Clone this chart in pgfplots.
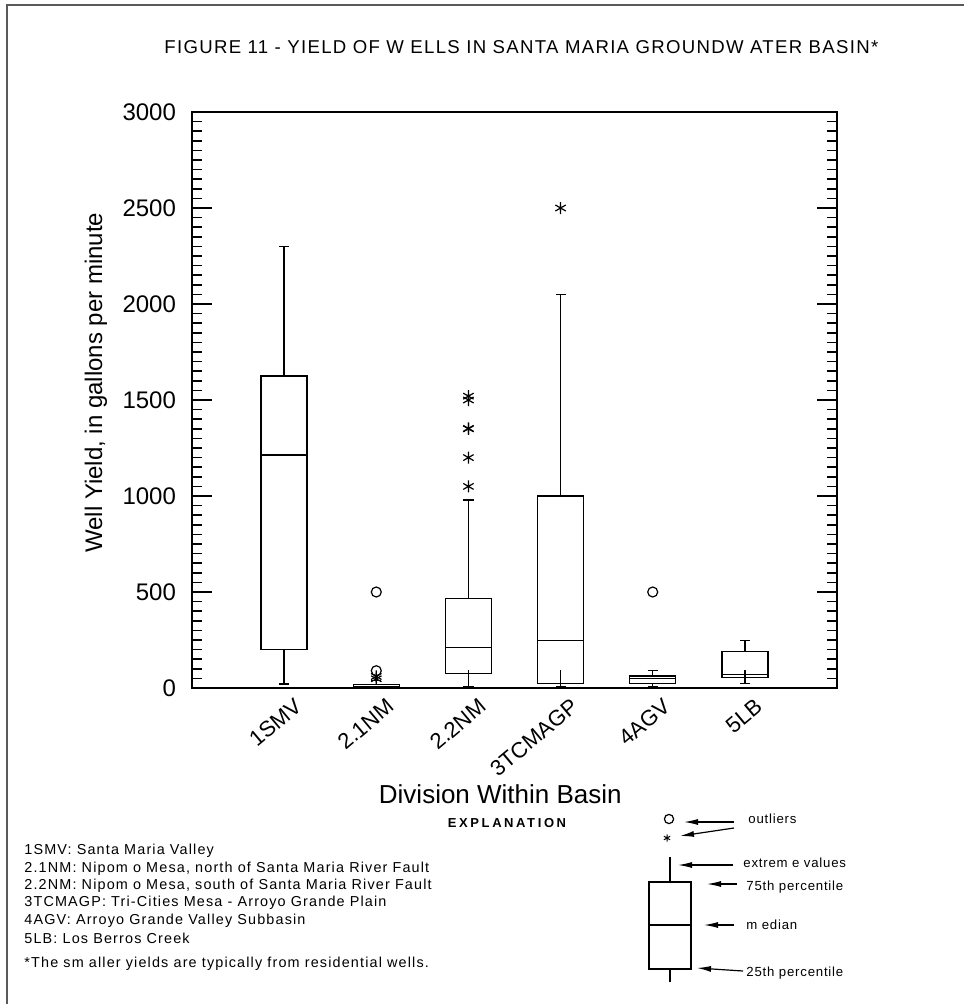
\documentclass[border=0pt]{standalone}
\usepackage{pgfplots}
\pgfplotsset{compat=1.18}
\usepgfplotslibrary{statistics}
\usetikzlibrary{arrows.meta}
\usepackage{fontspec}
\setmainfont{Liberation Sans}
\newfontfamily\spacedT[LetterSpace=7]{Liberation Sans}
\newfontfamily\spacedE[LetterSpace=8]{Liberation Sans}
\newfontfamily\spacedL[LetterSpace=6]{Liberation Sans}
\newfontfamily\spacedX[LetterSpace=20]{Liberation Sans}

\begin{document}
\begin{tikzpicture}
\path[use as bounding box] (0,0) rectangle (482pt,-502pt);
\draw[black!65, line width=1pt] (3.5pt,-502pt) -- (3.5pt,-2.5pt) -- (482pt,-2.5pt);
\node[anchor=west, inner sep=0pt, font=\spacedT\fontsize{9.3}{10}\selectfont] at (82pt,-23.5pt) {FIGURE 11 - YIELD OF W ELLS IN SANTA MARIA GROUNDW ATER BASIN*};

\begin{axis}[
  at={(96pt,-344pt)}, anchor=south west, scale only axis,
  width=322.5pt, height=288pt,
  xmin=0, xmax=7, ymin=0, ymax=3000,
  axis line style={line width=1pt},
  xtick={1,2,3,4,5,6},
  xticklabels={1SMV,2.1NM,2.2NM,3TCMAGP,4AGV,5LB},
  major x tick style={draw=none},
  x tick label style={rotate=40, anchor=north east, font=\fontsize{11}{12}\selectfont, yshift=-3pt, xshift=4pt},
  ytick={0,500,...,3000},
  minor y tick num=9,
  ytick pos=both, tick align=inside,
  major tick length=10pt, minor tick length=5pt,
  y tick label style={font=\fontsize{12}{14}\selectfont, xshift=-4.5pt},
  /pgf/number format/assume math mode=true,
  /pgf/number format/set thousands separator={},
  every tick/.style={black, line width=0.8pt},
  ylabel={Well Yield, in gallons per minute},
  xlabel={Division Within Basin},
  every axis y label/.style={at={(axis description cs:-0.149,0.53)}, anchor=center, rotate=90, font=\fontsize{12}{14}\selectfont},
  every axis x label/.style={at={(axis description cs:0.478,0)}, anchor=center, yshift=-53pt, font=\fontsize{13}{15}\selectfont},
  boxplot/draw direction=y,
  boxplot/box extend=0.5,
  boxplot/whisker extend=0.11,
  clip=false,
]
% 1SMV
\addplot[black, line width=0.7pt, boxplot prepared={draw position=1, lower whisker=20, lower quartile=200, median=1213, upper quartile=1625, upper whisker=2300}] coordinates {};
% 2.1NM
\addplot[black, line width=0.7pt, boxplot prepared={draw position=2, lower whisker=1, lower quartile=3, median=8, upper quartile=19, upper whisker=40}] coordinates {};
% 2.2NM
\addplot[black, line width=0.7pt, boxplot prepared={draw position=3, lower whisker=5, lower quartile=75, median=210, upper quartile=465, upper whisker=980}] coordinates {};
% 3TCMAGP
\addplot[black, line width=0.7pt, boxplot prepared={draw position=4, lower whisker=9, lower quartile=23, median=248, upper quartile=1000, upper whisker=2050}] coordinates {};
% 4AGV
\addplot[black, line width=0.7pt, boxplot prepared={draw position=5, lower whisker=9, lower quartile=23, median=50, upper quartile=62, upper whisker=92}] coordinates {};
% 5LB
\addplot[black, line width=0.7pt, boxplot prepared={draw position=6, lower whisker=23, lower quartile=54, median=69, upper quartile=189, upper whisker=248}] coordinates {};
% lower whisker strokes drawn into the boxes
\addplot[black, line width=0.7pt] coordinates {(3,5) (3,92)};
\addplot[black, line width=0.7pt] coordinates {(4,9) (4,92)};
\addplot[black, line width=0.7pt] coordinates {(6,23) (6,92)};
% outliers
\addplot[only marks, mark=o, mark size=2.5pt, mark options={line width=0.6pt}] coordinates {(2,500) (2,90) (5,500)};
\addplot[only marks, mark=asterisk, mark size=3pt, mark options={line width=0.6pt}] coordinates {(2,60) (2,48) (3,1050) (3,1200) (3,1350) (3,1352) (3,1500) (3,1520) (4,2500)};
\end{axis}

\node[font=\spacedX\bfseries\fontsize{6.5}{8}\selectfont] at (253.5pt,-411.5pt) {EXPLANATION};
\begin{scope}[every node/.style={anchor=west, inner sep=0pt, font=\spacedE\fontsize{7.2}{8}\selectfont}]
\node at (12pt,-425.5pt) {1SMV: Santa Maria Valley};
\node at (12pt,-434.2pt) {2.1NM: Nipom o Mesa, north of Santa Maria River Fault};
\node at (12pt,-442.9pt) {2.2NM: Nipom o Mesa, south of Santa Maria River Fault};
\node at (12pt,-451.6pt) {3TCMAGP: Tri-Cities Mesa - Arroyo Grande Plain};
\node at (12pt,-460.3pt) {4AGV: Arroyo Grande Valley Subbasin};
\node at (12pt,-469pt) {5LB: Los Berros Creek};
\node at (12pt,-482pt) {*The sm aller yields are typically from  residential wells.};
\end{scope}

\begin{axis}[at={(290pt,-400pt)}, anchor=north west, scale only axis,
  width=150pt, height=95pt, xmin=580, xmax=880, ymin=800, ymax=990,
  y dir=reverse, hide axis, clip=false,
  boxplot/draw direction=y,
  boxplot/box extend=42, boxplot/whisker extend=0]
\addplot[black, line width=0.7pt, boxplot prepared={draw position=670, lower whisker=982, lower quartile=969, median=925, upper quartile=882, upper whisker=857}] coordinates {};
\addplot[only marks, mark=o, mark size=2.3pt, mark options={line width=0.6pt}] coordinates {(669,819)};
\addplot[only marks, mark=asterisk, mark size=1.8pt, mark options={line width=0.5pt}] coordinates {(667,838)};
\draw[-{Latex[length=7pt,width=3pt]}, line width=0.6pt] (734,822) -- (684,822);
\draw[-{Latex[length=7pt,width=3pt]}, line width=0.6pt] (734,828) -- (680,836);
\draw[-{Latex[length=7pt,width=3pt]}, line width=0.6pt] (733,865) -- (678,865);
\draw[-{Latex[length=7pt,width=3pt]}, line width=0.6pt] (737,884) -- (707,884);
\draw[-{Latex[length=7pt,width=3pt]}, line width=0.6pt] (734,925) -- (704,925);
\draw[-{Latex[length=7pt,width=3pt]}, line width=0.6pt] (743,971) -- (697,968);
\begin{scope}[every node/.style={anchor=west, inner sep=0pt, font=\spacedL\fontsize{6.6}{7}\selectfont}]
\node at (748,819) {outliers};
\node at (743,863) {extrem e values};
\node at (746,887) {75th percentile};
\node at (746,925) {m edian};
\node at (746,973) {25th percentile};
\end{scope}
\end{axis}
\end{tikzpicture}
\end{document}
